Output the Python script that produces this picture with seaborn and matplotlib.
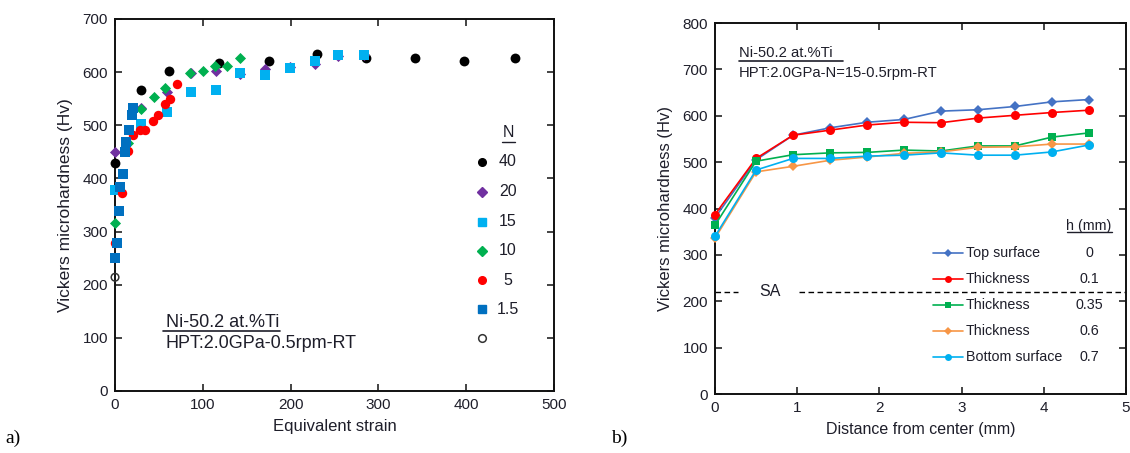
import matplotlib
matplotlib.use("Agg")
import matplotlib.pyplot as plt
import seaborn as sns

sns.set_theme(style="ticks")
plt.rcParams['font.family'] = ['Liberation Sans', 'DejaVu Sans']

# ---- Panel a: hardness vs equivalent strain for each number of turns N ----
strain_n40 = [0, 30, 62, 118, 175, 230, 286, 342, 398, 455]
hv_n40 = [429, 566, 603, 617, 621, 635, 626, 626, 621, 626]
strain_n20 = [0, 30, 59, 87, 115, 142, 171, 199, 228, 254, 284]
hv_n20 = [450, 532, 562, 598, 603, 596, 605, 610, 615, 630, 632]
strain_n15 = [0, 30, 59, 87, 115, 142, 171, 199, 228, 254, 284]
hv_n15 = [378, 503, 525, 562, 566, 598, 594, 607, 621, 632, 632]
strain_n10 = [0, 15, 30, 44, 57, 85, 100, 114, 128, 142]
hv_n10 = [316, 467, 530, 553, 571, 599, 602, 612, 612, 626]
strain_n5 = [0, 8, 15, 21, 28, 34, 43, 49, 57, 63, 71]
hv_n5 = [279, 373, 451, 481, 492, 492, 508, 520, 540, 550, 578]
strain_n1_5 = [0, 2, 5, 6, 9, 11, 13, 16, 19, 21]
hv_n1_5 = [251, 279, 338, 383, 408, 449, 468, 491, 519, 532]
strain_n0 = [0]
hv_n0 = [214]
n_labels = ["40", "20", "15", "10", "5", "1.5", "0"]

# ---- Panel b: hardness vs distance from disc center at several depths ----
distance = [0, 0.5, 0.95, 1.4, 1.85, 2.3, 2.75, 3.2, 3.65, 4.1, 4.55]
hv_top = [380, 505, 558, 574, 586, 592, 610, 613, 620, 630, 635]
hv_h010 = [387, 508, 558, 569, 580, 586, 585, 595, 601, 607, 612]
hv_h035 = [364, 502, 516, 520, 521, 526, 524, 535, 535, 554, 563]
hv_h060 = [336, 479, 491, 504, 511, 519, 522, 532, 533, 539, 539]
hv_bottom = [340, 483, 508, 508, 513, 515, 520, 515, 515, 522, 537]
depth_names = ["Top surface", "Thickness", "Thickness", "Thickness", "Bottom surface"]
depth_values = ["0", "0.1", "0.35", "0.6", "0.7"]
sa_hv = 220

TXT = "#1e1e2a"

fig = plt.figure(figsize=(11.3, 4.53), dpi=100)
ax1 = fig.add_axes([0.1018, 0.1369, 0.3885, 0.8212])
ax2 = fig.add_axes([0.6327, 0.1302, 0.3637, 0.8190])

# ---------- panel a ----------
series_a = [
    (strain_n40, hv_n40, "o", "black", 50),
    (strain_n20, hv_n20, "D", "#7030a0", 32),
    (strain_n15, hv_n15, "s", "#00b0f0", 42),
    (strain_n10, hv_n10, "D", "#00b050", 32),
    (strain_n5, hv_n5, "o", "#ff0000", 46),
    (strain_n1_5, hv_n1_5, "s", "#0070c0", 42),
]
for xs, ys, mk, col, sz in series_a:
    sns.scatterplot(x=xs, y=ys, marker=mk, color=col, s=sz, linewidth=0,
                    ax=ax1, zorder=3, legend=False, clip_on=False)
ax1.scatter(strain_n0, hv_n0, marker="o", s=30, facecolors="none",
            edgecolors="#333333", linewidths=1.1, zorder=3, clip_on=False)

ax1.set_xlim(0, 500)
ax1.set_ylim(0, 700)
ax1.set_xticks(range(0, 501, 100))
ax1.set_yticks(range(0, 701, 100))
ax1.set_xlabel("Equivalent strain", fontsize=12, color=TXT, labelpad=5)
ax1.set_ylabel("Vickers microhardness (Hv)", fontsize=12.5, color=TXT, labelpad=7)

# legend for N
ax1.text(0.895, 0.694, "N", transform=ax1.transAxes, ha="center", va="center",
         fontsize=11.5, color=TXT)
ax1.plot([0.882, 0.910], [0.670, 0.670], transform=ax1.transAxes, color=TXT, lw=1)
leg_y = [0.616, 0.535, 0.455, 0.377, 0.298, 0.220, 0.143]
leg_style = [(mk, col) for _, _, mk, col, _ in series_a]
for (mk, col), yy, lab in zip(leg_style, leg_y, n_labels):
    ax1.plot([0.836], [yy], transform=ax1.transAxes, marker=mk, color=col,
             markersize=5.5 if mk != "D" else 5, linestyle="none")
    ax1.text(0.895, yy, lab, transform=ax1.transAxes, ha="center", va="center",
             fontsize=11.5, color=TXT)
ax1.plot([0.836], [leg_y[-1]], transform=ax1.transAxes, marker="o",
         markerfacecolor="none", markeredgecolor="#333333", markersize=5.5,
         markeredgewidth=1.1, linestyle="none")

ax1.text(0.115, 0.184, "Ni-50.2 at.%Ti", transform=ax1.transAxes,
         ha="left", va="center", fontsize=13, color=TXT)
ax1.plot([0.109, 0.376], [0.160, 0.160], transform=ax1.transAxes, color=TXT, lw=1.2)
ax1.text(0.115, 0.127, "HPT:2.0GPa-0.5rpm-RT", transform=ax1.transAxes,
         ha="left", va="center", fontsize=13, color=TXT)

# ---------- panel b ----------
series_b = [
    (hv_top, "D", "#4472c4", 5.5),
    (hv_h010, "o", "#ff0000", 6.5),
    (hv_h035, "s", "#00b050", 6.0),
    (hv_h060, "D", "#f79646", 5.5),
    (hv_bottom, "o", "#00b0f0", 6.5),
]
for ys, mk, col, ms in series_b:
    sns.lineplot(x=distance, y=ys, marker=mk, color=col, markersize=ms,
                 markeredgewidth=0, linewidth=1.2, sort=False, ax=ax2,
                 zorder=3, clip_on=False)

ax2.hlines(sa_hv, 0, 0.28, colors="black", linestyles=(0, (4, 2.5)), lw=1)
ax2.hlines(sa_hv, 1.02, 5, colors="black", linestyles=(0, (4, 2.5)), lw=1)
ax2.text(0.67, sa_hv, "SA", ha="center", va="center", fontsize=11.5, color=TXT)

ax2.set_xlim(0, 5)
ax2.set_ylim(0, 800)
ax2.set_xticks(range(0, 6))
ax2.set_yticks(range(0, 801, 100))
ax2.set_xlabel("Distance from center (mm)", fontsize=11.5, color=TXT, labelpad=5)
ax2.set_ylabel("Vickers microhardness (Hv)", fontsize=12, color=TXT, labelpad=7)

ax2.text(0.059, 0.918, "Ni-50.2 at.%Ti", transform=ax2.transAxes,
         ha="left", va="center", fontsize=10.6, color=TXT)
ax2.plot([0.058, 0.311], [0.897, 0.897], transform=ax2.transAxes, color=TXT, lw=1.2)
ax2.text(0.059, 0.865, "HPT:2.0GPa-N=15-0.5rpm-RT", transform=ax2.transAxes,
         ha="left", va="center", fontsize=10.6, color=TXT)

# legend for depth h
ax2.text(0.910, 0.453, "h (mm)", transform=ax2.transAxes, ha="center",
         va="center", fontsize=10.3, color=TXT)
ax2.plot([0.856, 0.966], [0.436, 0.436], transform=ax2.transAxes, color=TXT, lw=1)
leg_yb = [0.379, 0.309, 0.240, 0.171, 0.101]
for (ys, mk, col, ms), yy, nm, hv in zip(series_b, leg_yb, depth_names, depth_values):
    ax2.plot([0.530, 0.603], [yy, yy], transform=ax2.transAxes, color=col, lw=1.2)
    ax2.plot([0.567], [yy], transform=ax2.transAxes, marker=mk, color=col,
             markersize=ms - 1.5, markeredgewidth=0)
    ax2.text(0.610, yy, nm, transform=ax2.transAxes, ha="left", va="center",
             fontsize=10.3, color=TXT)
    ax2.text(0.910, yy, hv, transform=ax2.transAxes, ha="center", va="center",
             fontsize=10.3, color=TXT)

for ax in (ax1, ax2):
    for sp in ax.spines.values():
        sp.set_visible(True)
        sp.set_color("#111111")
        sp.set_linewidth(1.4)
    ax.tick_params(direction="in", length=5, width=1.1, top=True, right=True,
                   labelsize=11, labelcolor=TXT, color="#111111", pad=5)
    ax.set_facecolor("white")
    ax.grid(False)

fig.text(0.005, 0.022, "a)", fontsize=14, family="Liberation Serif", color="black")
fig.text(0.541, 0.022, "b)", fontsize=14, family="Liberation Serif", color="black")

fig.savefig("out.png", dpi=100, facecolor="white")
